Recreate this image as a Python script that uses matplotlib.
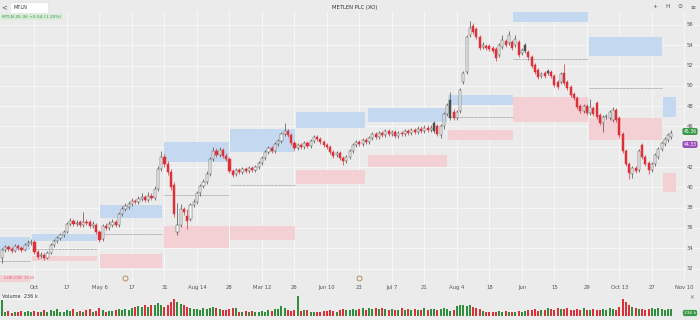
import matplotlib
matplotlib.use("Agg")
import matplotlib.pyplot as plt
from matplotlib.patches import Rectangle
import matplotlib.transforms as mtransforms
import numpy as np

# ---------------- data ----------------
opens = [
    33.0, 33.8, 34.1, 33.9, 33.7, 34.2, 34.0, 33.8, 34.3, 34.5,
    34.6, 33.6, 33.2, 33.3, 33.0, 33.5, 34.3, 34.7, 35.0, 35.3,
    35.6, 36.4, 36.7, 36.4, 36.6, 36.3, 36.6, 36.6, 36.2, 36.3,
    35.6, 34.9, 36.2, 36.0, 36.3, 36.6, 36.3, 37.4, 37.9, 38.1,
    38.4, 38.7, 38.6, 38.9, 39.1, 38.8, 39.2, 39.0, 39.8, 41.8,
    43.0, 42.3, 41.5, 40.2, 35.6, 36.3, 37.9, 37.2, 36.9, 38.3,
    38.6, 39.4, 40.1, 40.5, 41.3, 42.8, 43.6, 43.2, 43.7, 43.1,
    42.8, 41.6, 41.3, 41.7, 41.5, 41.8, 41.6, 41.9, 41.7, 42.0,
    42.4, 42.9, 43.5, 43.9, 43.6, 44.3, 44.6, 45.3, 45.6, 45.2,
    44.4, 43.9, 44.2, 44.0, 44.4, 44.1, 44.6, 45.0, 44.8, 44.5,
    44.2, 44.0, 43.5, 43.2, 43.4, 42.9, 42.6, 43.0, 43.6, 44.2,
    44.5, 44.3, 44.7, 44.5, 44.9, 45.3, 45.0, 45.4, 45.2, 45.6,
    45.3, 45.5, 45.1, 45.4, 45.3, 45.6, 45.4, 45.7, 45.5, 45.8,
    45.6, 45.9, 45.7, 45.6, 46.0, 45.2, 46.0, 47.2, 46.8, 47.4,
    46.8, 47.5, 50.4, 51.4, 55.0, 55.9, 55.6, 54.8, 53.8, 53.9,
    53.9, 53.7, 53.6, 53.0, 53.8, 54.4, 54.2, 54.3, 54.0, 54.3,
    53.2, 53.4, 53.3, 52.8, 52.1, 51.6, 51.0, 51.3, 51.3, 51.4,
    51.0, 50.4, 50.4, 51.3, 50.4, 49.9, 49.2, 48.8, 48.0, 47.5,
    48.0, 47.3, 47.8, 48.3, 47.1, 46.3, 46.9, 46.8, 46.6, 47.6,
    46.8, 45.3, 43.6, 42.3, 41.3, 41.9, 41.7, 44.2, 43.0, 42.4,
    41.7, 42.3, 43.0, 43.8, 44.3, 44.7, 45.0,
]
closes = [
    33.8, 34.1, 33.9, 33.7, 34.2, 34.0, 33.8, 34.3, 34.5, 34.6,
    33.6, 33.1, 33.3, 33.0, 33.5, 34.3, 34.7, 35.0, 35.3, 35.6,
    36.4, 36.7, 36.4, 36.5, 36.3, 36.6, 36.5, 36.2, 36.4, 35.6,
    34.8, 36.2, 36.0, 36.4, 36.6, 36.3, 37.4, 37.9, 38.2, 38.4,
    38.7, 38.6, 38.9, 39.1, 38.8, 39.2, 39.0, 39.8, 41.8, 43.0,
    42.3, 41.5, 40.0, 37.4, 36.3, 37.9, 37.6, 36.7, 38.3, 38.6,
    39.4, 40.1, 40.5, 41.3, 42.8, 43.6, 43.2, 43.7, 43.1, 42.8,
    41.6, 41.2, 41.7, 41.5, 41.8, 41.6, 41.9, 41.7, 42.0, 42.4,
    42.9, 43.5, 43.9, 43.6, 44.3, 44.6, 45.3, 45.6, 45.2, 44.4,
    43.9, 44.2, 44.0, 44.4, 44.1, 44.6, 45.0, 44.8, 44.5, 44.2,
    44.0, 43.5, 43.1, 43.4, 42.9, 42.6, 43.0, 43.6, 44.2, 44.5,
    44.3, 44.7, 44.5, 44.9, 45.3, 45.0, 45.4, 45.2, 45.6, 45.3,
    45.5, 45.1, 45.4, 45.3, 45.6, 45.4, 45.7, 45.5, 45.8, 45.6,
    45.9, 45.7, 45.9, 46.3, 45.3, 46.0, 47.2, 48.1, 48.6, 46.8,
    47.4, 49.6, 51.3, 54.8, 55.7, 55.3, 54.8, 53.7, 54.0, 53.7,
    53.6, 53.4, 52.7, 54.0, 54.5, 54.0, 55.0, 53.7, 54.6, 53.0,
    53.5, 54.0, 52.8, 52.0, 51.4, 50.9, 51.2, 51.0, 51.5, 51.0,
    50.1, 49.9, 51.2, 50.3, 49.8, 49.1, 48.8, 47.9, 47.5, 48.0,
    47.3, 47.9, 47.2, 46.9, 46.3, 46.9, 47.0, 47.4, 47.6, 46.6,
    45.2, 43.6, 42.3, 41.4, 41.9, 41.6, 43.6, 43.0, 42.3, 41.7,
    42.3, 43.2, 43.8, 44.4, 44.8, 45.2, 45.36,
]
highs = [
    34.0, 34.3, 34.3, 34.1, 34.4, 34.4, 34.2, 34.5, 34.8, 34.9,
    34.8, 33.8, 33.6, 33.5, 33.7, 34.5, 34.9, 35.2, 35.5, 35.8,
    36.6, 37.0, 36.9, 36.8, 36.8, 37.6, 36.9, 36.8, 36.7, 36.5,
    35.8, 36.4, 36.5, 36.7, 36.9, 36.8, 37.6, 38.2, 38.5, 38.7,
    39.0, 38.9, 39.2, 39.4, 39.3, 39.5, 39.4, 40.1, 42.1, 43.6,
    43.3, 42.6, 41.8, 40.5, 38.5, 38.4, 38.1, 37.9, 38.5, 38.9,
    39.6, 40.3, 40.8, 41.6, 43.0, 44.0, 43.9, 44.0, 43.9, 43.4,
    43.0, 41.8, 41.9, 41.9, 42.0, 42.0, 42.1, 42.1, 42.2, 42.6,
    43.1, 43.7, 44.1, 44.1, 44.5, 44.8, 45.5, 46.3, 45.8, 45.4,
    44.6, 44.4, 44.4, 44.6, 44.6, 44.8, 45.2, 45.2, 45.0, 44.7,
    44.4, 44.2, 43.7, 43.6, 43.6, 43.1, 43.2, 43.8, 44.4, 44.7,
    44.7, 44.9, 44.9, 45.1, 45.5, 45.5, 45.6, 45.6, 45.8, 45.8,
    45.7, 45.7, 45.6, 45.6, 45.8, 45.8, 45.9, 45.9, 46.0, 46.0,
    46.1, 46.1, 46.1, 46.5, 46.2, 46.2, 47.4, 48.3, 49.4, 47.7,
    47.6, 49.8, 51.5, 55.0, 56.4, 56.2, 55.8, 55.0, 54.3, 54.1,
    54.1, 53.9, 53.8, 54.2, 55.0, 54.6, 55.4, 54.5, 55.0, 54.5,
    53.7, 54.2, 53.5, 53.0, 52.3, 51.8, 51.4, 51.5, 51.7, 51.6,
    51.2, 50.6, 51.4, 52.2, 50.6, 50.1, 49.4, 49.0, 48.2, 48.2,
    48.2, 48.7, 48.0, 48.5, 47.3, 47.1, 47.2, 47.6, 47.9, 47.8,
    47.0, 45.5, 43.8, 42.5, 42.1, 42.1, 43.8, 44.4, 43.2, 42.6,
    42.5, 43.4, 44.0, 44.6, 45.0, 45.4, 45.7,
]
lows = [
    32.6, 33.6, 33.7, 33.5, 33.6, 33.8, 33.6, 33.7, 34.2, 34.3,
    33.4, 32.9, 33.0, 32.8, 32.9, 33.4, 34.1, 34.5, 34.8, 35.1,
    35.5, 36.2, 36.2, 36.2, 36.1, 36.1, 36.3, 36.0, 36.0, 35.4,
    34.6, 34.7, 35.8, 35.8, 36.1, 36.1, 36.1, 37.2, 37.7, 37.9,
    38.2, 38.4, 38.4, 38.7, 38.6, 38.6, 38.8, 38.8, 39.6, 41.6,
    42.0, 41.2, 39.7, 37.1, 35.3, 36.1, 37.3, 35.9, 36.7, 38.1,
    38.4, 39.2, 39.9, 40.3, 41.1, 42.6, 43.0, 43.0, 42.9, 42.6,
    41.4, 41.0, 41.1, 41.3, 41.3, 41.4, 41.4, 41.5, 41.5, 41.8,
    42.2, 42.7, 43.3, 43.4, 43.4, 44.1, 44.4, 45.1, 45.0, 44.2,
    43.7, 43.7, 43.8, 43.8, 43.9, 43.9, 44.4, 44.6, 44.3, 44.0,
    43.8, 43.3, 42.9, 43.0, 42.7, 42.2, 42.4, 42.8, 43.4, 44.0,
    44.1, 44.1, 44.3, 44.3, 44.7, 44.8, 44.8, 45.0, 45.0, 45.1,
    45.1, 44.9, 44.9, 45.1, 45.1, 45.2, 45.2, 45.3, 45.3, 45.4,
    45.4, 45.5, 45.5, 45.4, 45.1, 44.9, 45.8, 47.0, 46.6, 46.6,
    46.6, 47.3, 50.2, 51.2, 54.8, 55.1, 54.6, 53.5, 53.6, 53.5,
    53.4, 53.2, 52.5, 52.8, 53.6, 53.8, 54.0, 53.5, 53.8, 52.8,
    53.0, 53.2, 52.6, 51.8, 51.2, 50.7, 50.8, 50.8, 51.1, 50.8,
    49.9, 49.7, 50.2, 50.1, 49.6, 48.9, 48.6, 47.7, 47.3, 47.3,
    47.1, 47.1, 47.0, 46.7, 46.1, 45.5, 46.7, 46.6, 46.4, 46.4,
    45.0, 43.4, 42.1, 40.8, 40.9, 41.4, 41.5, 42.8, 42.1, 41.3,
    41.5, 42.1, 42.8, 43.6, 44.1, 44.5, 44.8,
]
volumes_k = [
    1100, 180, 220, 150, 200, 170, 240, 160, 210, 190,
    230, 200, 180, 250, 160, 260, 220, 300, 200, 180,
    270, 240, 310, 190, 220, 200, 260, 300, 180, 230,
    350, 280, 200, 240, 220, 260, 320, 280, 300, 250,
    380, 420, 460, 400, 480, 420, 500, 520, 600, 480,
    400, 520, 640, 780, 650, 540, 480, 420, 380, 330,
    300, 260, 340, 300, 380, 420, 360, 300, 280, 260,
    320, 340, 360, 200, 180, 220, 200, 240, 190, 200,
    210, 180, 260, 220, 300, 330, 460, 380, 260, 240,
    250, 900, 230, 250, 260, 200, 190, 170, 160, 230,
    210, 250, 220, 200, 250, 320, 270, 260, 330, 280,
    300, 360, 280, 340, 300, 370, 320, 380, 330, 280,
    300, 260, 290, 340, 260, 330, 250, 300, 270, 280,
    340, 290, 330, 300, 260, 300, 380, 300, 240, 250,
    460, 520, 480, 440, 500, 420, 340, 300, 240, 200,
    180, 200, 160, 210, 190, 220, 170, 200, 180, 210,
    200, 230, 260, 280, 300, 240, 290, 260, 350, 300,
    280, 360, 300, 330, 380, 280, 270, 300, 260, 350,
    280, 260, 300, 250, 280, 300, 260, 340, 300, 280,
    420, 780, 640, 520, 420, 360, 330, 300, 280, 320,
    340, 300, 380, 300, 280, 320, 300,
]
dark_candles = [133, 138, 161, 168]

date_tick_pos = [10, 20, 30, 40, 50, 60, 70, 80, 90, 100, 110,
                 120, 130, 140, 150, 160, 170, 180, 190, 200, 210]
date_tick_labels = ["Oct", "17", "May 6", "17", "31", "Aug 14", "28",
                    "Mar 12", "26", "Jun 10", "23", "Jul 7", "21", "Aug 4",
                    "18", "Jun", "15", "29", "Oct 13", "27", "Nov 10"]
price_ticks = [32, 34, 36, 38, 40, 42, 44, 46, 48, 50, 52, 54, 56]

zone_start = [-0.6, 9.2, 30.2, 49.8, 70.2, 90.6, 112.6, 137.4, 157.4, 180.6, 203.4]
zone_end = [8.6, 29.2, 49.4, 69.8, 90.2, 111.6, 137.0, 157.2, 180.2, 203.0, 207.4]
res_top = [35.1, 35.4, 38.3, 44.5, 45.8, 47.4, 47.8, 49.1, 57.3, 54.8, 48.9]
res_bot = [33.8, 34.7, 37.0, 42.5, 43.5, 45.9, 46.4, 48.1, 56.3, 52.9, 46.9]
sup_top = [31.4, 33.2, 33.4, 36.2, 36.2, 41.7, 43.2, 45.7, 48.9, 46.8, 41.4]
sup_bot = [30.7, 32.7, 32.1, 34.0, 34.8, 40.3, 42.0, 44.7, 46.4, 44.7, 39.5]
pivot = [32.7, 33.9, 35.4, 39.25, 40.2, np.nan, np.nan, 46.9, 52.65, 49.8, np.nan]

event_idx = [38, 110]
last_price = 45.36
alt_price = 44.33

# ---------------- style ----------------
BG = "#ebebeb"
GRID = "#f7f7f7"
UP_EDGE = "#4a4a4a"
DOWN = "#dc3139"
DARK = "#4d4d4d"
BLUE = "#c4d9ef"
PINK = "#f2d0d4"
TXT = "#555555"
GREEN = "#3a9a48"

W, H = 700, 320
fig = plt.figure(figsize=(7, 3.2), dpi=100, facecolor=BG)


def fy(py):
    return 1 - py / H


ax = fig.add_axes([0, fy(283), 1, (283 - 11) / H])
ax.set_facecolor(BG)
ax.set_xlim(-0.6, 214.8)
ax.set_ylim(56 - (283 - 25) / 10.15, 56 + (25 - 11) / 10.15)
for s in ax.spines.values():
    s.set_visible(False)
ax.set_yticks(price_ticks)
ax.set_xticks(date_tick_pos)
ax.set_xticklabels(date_tick_labels)
ax.tick_params(axis="x", length=0, pad=1.2, labelsize=3.8, labelcolor=TXT)
ax.tick_params(axis="y", length=0, labelleft=False)
ax.grid(True, color=GRID, linewidth=0.7, zorder=0)
ax.set_axisbelow(True)

# zones
for i in range(len(zone_start)):
    x0, x1 = zone_start[i], zone_end[i]
    ax.add_patch(Rectangle((x0, res_bot[i]), x1 - x0, res_top[i] - res_bot[i],
                           facecolor=BLUE, edgecolor="none", zorder=1))
    ax.add_patch(Rectangle((x0, sup_bot[i]), x1 - x0, sup_top[i] - sup_bot[i],
                           facecolor=PINK, edgecolor="none", zorder=1))
    if not np.isnan(pivot[i]):
        ax.hlines(pivot[i], x0, x1, color="#8a8a8a", linewidth=0.5,
                  linestyles=(0, (1.2, 0.8)), zorder=1.5)
ax.text(0.5, (sup_top[0] + sup_bot[0]) / 2, "52W LOW  33.00", fontsize=2.6,
        color="#d9636a", va="center", ha="left", zorder=2)

# candles
n = len(closes)
xs = np.arange(n)
for i in range(n):
    o, c, h, l = opens[i], closes[i], highs[i], lows[i]
    if i in dark_candles:
        fc, ec, wc = DARK, DARK, DARK
    elif c >= o:
        fc, ec, wc = "white", UP_EDGE, UP_EDGE
    else:
        fc, ec, wc = DOWN, DOWN, DOWN
    ax.vlines(i, l, h, color=wc, linewidth=0.5, zorder=3)
    bot = min(o, c)
    ht = max(abs(c - o), 0.07)
    ax.bar(i, ht, bottom=bot, width=0.66, facecolor=fc, edgecolor=ec,
           linewidth=0.35, zorder=4)

# y labels on right (the 44 label sits under the purple badge)
ytrans = mtransforms.blended_transform_factory(ax.transAxes, ax.transData)
for p in price_ticks:
    if abs(p - alt_price) < 0.8:
        continue
    ax.text(690 / W, p, f"{p}", transform=ytrans, fontsize=3.8, color=TXT,
            ha="center", va="center", zorder=5)
ax.text(690 / W, last_price + 0.15, f"{last_price:.2f}", transform=ytrans, fontsize=3.3,
        color="white", ha="center", va="center", zorder=6,
        bbox=dict(boxstyle="round,pad=0.22,rounding_size=0.4", fc=GREEN, ec="none"))
ax.text(690 / W, alt_price - 0.1, f"{alt_price:.2f}", transform=ytrans, fontsize=3.3,
        color="white", ha="center", va="center", zorder=6,
        bbox=dict(boxstyle="round,pad=0.22,rounding_size=0.4", fc="#9a4fb6", ec="none"))

# event markers
etrans = mtransforms.blended_transform_factory(ax.transData, ax.transAxes)
for e in event_idx:
    ax.plot([e], [0.018], transform=etrans, marker="o", markersize=3.6,
            mfc="#f3e9df", mec="#a8815c", mew=0.6, zorder=6, clip_on=False)

# ---------------- volume ----------------
vax = fig.add_axes([0, fy(316), 1, 21 / H])
vax.set_xlim(-0.6, 214.8)
vax.set_ylim(0, 950)
vax.axis("off")
vcolors = ["#2f8f3c" if closes[i] >= opens[i] else DOWN for i in range(n)]
vax.bar(xs, volumes_k, width=0.64, color=vcolors, linewidth=0)

fig.text(2 / W, fy(296.5), "Volume  236 k", fontsize=3.6, color="#333333",
         ha="left", va="center",
         bbox=dict(boxstyle="square,pad=0.25", fc="#f2f2f2", ec="none"))
fig.text(690 / W, fy(313), "236 k", fontsize=3.2, color="white", ha="center",
         va="center", bbox=dict(boxstyle="round,pad=0.25,rounding_size=0.4",
                                fc=GREEN, ec="none"))
fig.text(692 / W, fy(298), "✕", fontsize=4, color="#777777", ha="center", va="center")

# ---------------- header ----------------
fig.patches.append(Rectangle((10 / W, fy(13)), 38 / W, 11 / H, transform=fig.transFigure,
                             facecolor="white", edgecolor="#dddddd", linewidth=0.4))
fig.text(4 / W, fy(7.5), "<", fontsize=5, color="#555555", ha="center", va="center")
fig.text(14 / W, fy(7.5), "MTLN", fontsize=3.6, color="#333333", ha="left", va="center")
fig.text(355 / W, fy(7), "METLEN PLC (XO)", fontsize=3.8, color="#333333",
         ha="center", va="center")
fig.text(2 / W, fy(17), "MTLN 45.36 +0.54 (1.20%)", fontsize=3.2, color=GREEN,
         ha="left", va="center",
         bbox=dict(boxstyle="square,pad=0.2", fc="#d9ebd9", ec="none"))
for xi, g in zip([655, 668, 680, 693], ["+", "H", "⊙", "≡"]):
    fig.text(xi / W, fy(6.5), g, fontsize=4.2, color="#555555", ha="center", va="center")

fig.savefig("out.png", dpi=100, facecolor=BG)
